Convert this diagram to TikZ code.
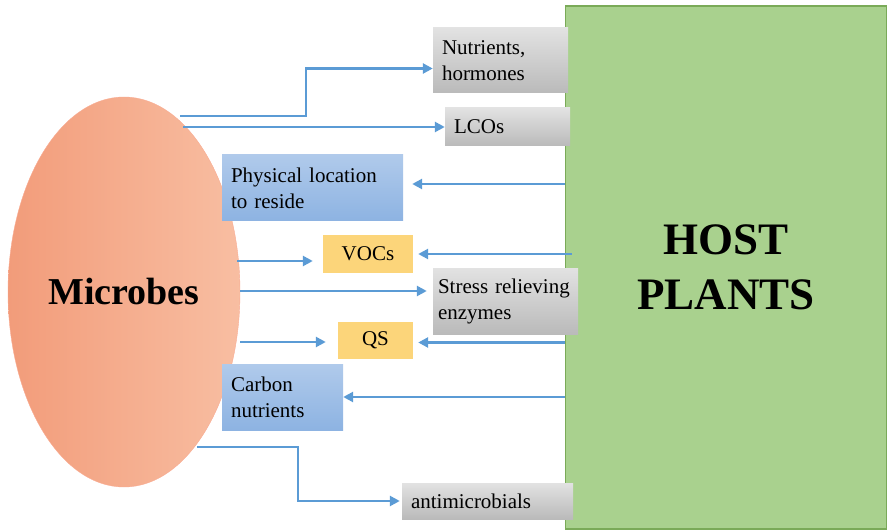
\documentclass[tikz,border=0pt]{standalone}
\usepackage{fontspec}
\setmainfont{Liberation Serif}
\usetikzlibrary{arrows.meta}
\usetikzlibrary{shapes.geometric}

\definecolor{linkblue}{HTML}{5B9BD5}
\definecolor{plantfill}{HTML}{A9D18E}
\definecolor{plantedge}{HTML}{7AAA58}
\definecolor{microleft}{HTML}{F29C7A}
\definecolor{microright}{HTML}{F8BEA2}
\definecolor{bluetop}{HTML}{B0CAEB}
\definecolor{bluebot}{HTML}{8DB3E2}
\definecolor{greytop}{HTML}{E2E2E2}
\definecolor{greybot}{HTML}{BABABA}
\definecolor{qsyellow}{HTML}{FCD57A}

% box labels: no hyphenation
\newcommand{\boxfont}{\fontsize{21}{26}\selectfont\hyphenpenalty=10000\relax}

\tikzset{
	box/.style={rectangle, inner xsep=9pt, inner ysep=2pt, align=left,
		font=\boxfont, text=black},
	greybox/.style={box, top color=greytop, bottom color=greybot},
	bluebox/.style={box, top color=bluetop, bottom color=bluebot},
	yellowbox/.style={box, fill=qsyellow, align=center},
	link/.style={draw=linkblue, line width=2.6pt, -{Triangle[length=10pt,width=10pt]}}
}

\begin{document}
\begin{tikzpicture}[x=1pt, y=-1pt]
		\useasboundingbox (0,0) rectangle (887,532);
		% the two partners
		\node[rectangle, fill=plantfill, draw=plantedge, line width=1.5pt,
			minimum width=321pt, minimum height=523pt, align=center,
			font=\fontsize{45}{55}\selectfont\bfseries] (plants) at (726,267.5) {HOST\\PLANTS};
		\node[ellipse, left color=microleft, right color=microright, draw=microright!90!red,
			minimum width=232pt, minimum height=390pt,
			font=\fontsize{38}{44}\selectfont\bfseries] (microbes) at (124,292) {Microbes};

		% what they exchange
		\node[greybox, text width=117pt, minimum height=65pt] (nutr) at (500.5,60.5) {Nutrients,\\hormones};
		\node[greybox, text width=107pt, minimum height=38pt] (lco) at (507.5,127) {LCOs};
		\node[bluebox, text width=163pt, minimum height=66pt] (phys) at (312.5,188) {Physical location\\to reside};
		\node[yellowbox, text width=72pt, minimum height=38pt] (voc) at (368,254) {VOCs};
		\node[greybox, inner xsep=5pt, text width=135pt, minimum height=66pt] (stress) at (505.5,301) {Stress relieving\\enzymes};
		\node[yellowbox, text width=57pt, minimum height=37pt] (qs) at (375.5,340.5) {QS};
		\node[bluebox, text width=103pt, minimum height=66pt] (carbon) at (282.5,397) {Carbon\\nutrients};
		\node[greybox, text width=153pt, minimum height=36pt] (anti) at (487.5,501) {antimicrobials};

		% start points on the microbe side
		\coordinate (m1) at (180,116);
		\coordinate (m2) at (183,127);
		\coordinate (m4) at (237,261);
		\coordinate (m5) at (240,291);
		\coordinate (m6) at (240,342);
		\coordinate (m8) at (197,447);

		% microbes -> plants
		\draw[link] (m1) -- ++(126,0) |- ([yshift=-8pt]nutr.west);
		\draw[link] (m2) -- (lco.west);
		\draw[link, shorten >=10pt] (m4) -- (m4 -| voc.west);
		\draw[link, shorten >=6pt] (m5) -- (m5 -| stress.west);
		\draw[link, shorten >=12pt] (m6) -- (m6 -| qs.west);
		\draw[link, shorten >=2pt] (m8) -- ++(101,0) |- (anti.west);

		% plants -> microbes
		\draw[link, shorten >=9pt] (plants.west |- phys.east) ++(0,-4) -- ([yshift=4pt]phys.east);
		\draw[link, shorten >=5pt] ([xshift=7pt]plants.west |- voc.east) -- (voc.east);
		\draw[link, shorten >=5pt] ([yshift=-2pt]plants.west |- qs.east) -- ([yshift=-2pt]qs.east);
		\draw[link] (plants.west |- carbon.east) -- (carbon.east);
	\end{tikzpicture}
\end{document}
